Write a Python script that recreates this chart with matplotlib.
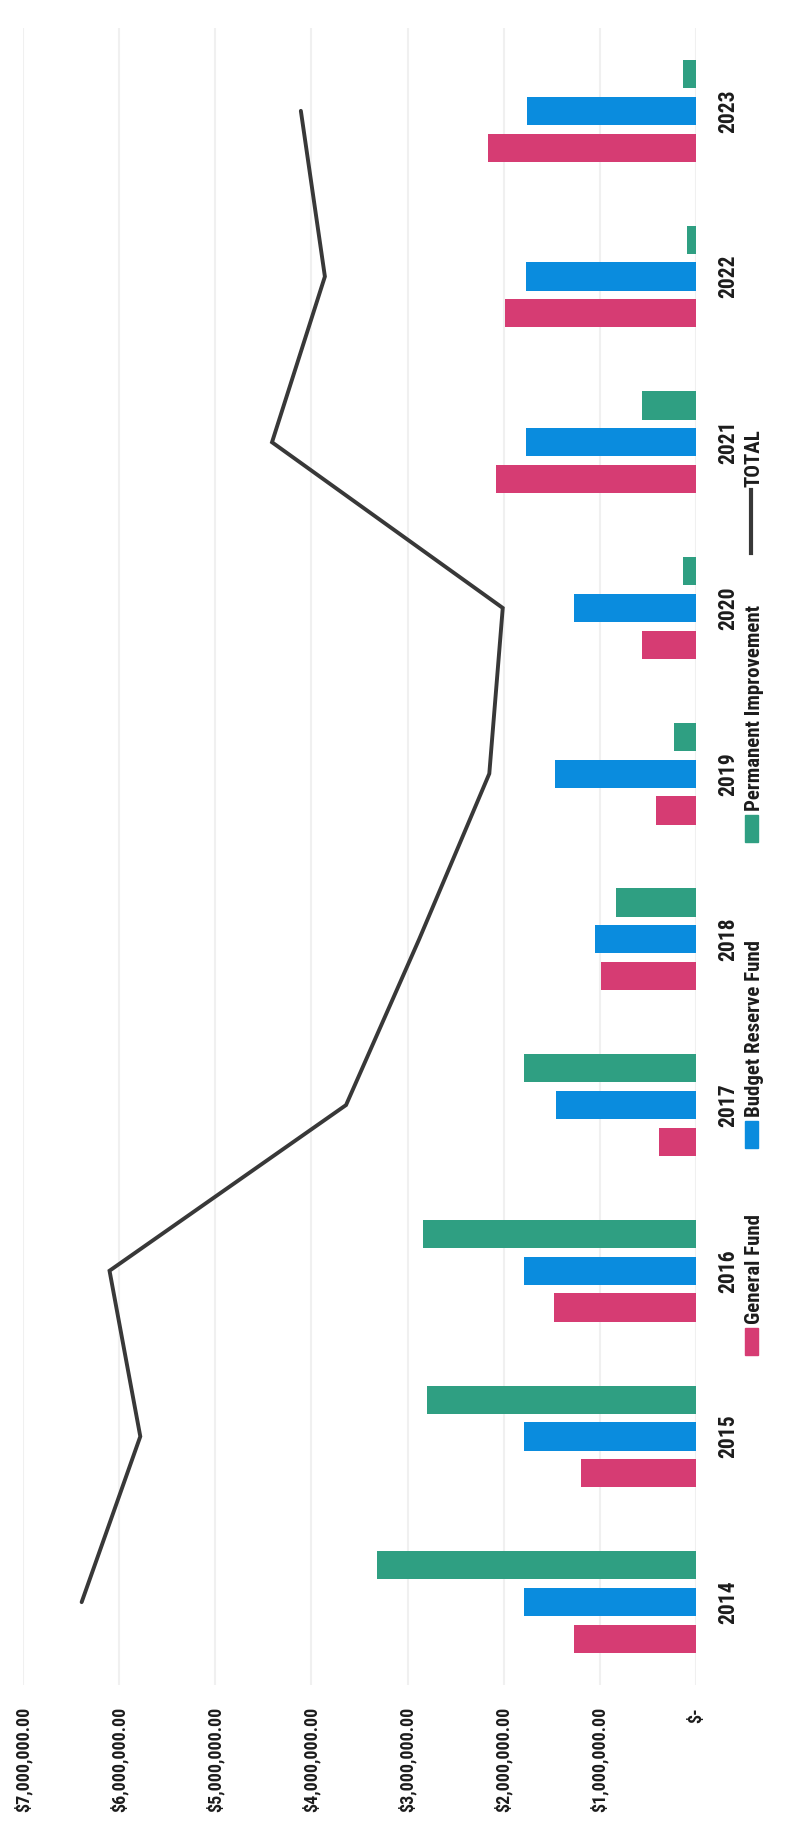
import matplotlib
matplotlib.use("Agg")
import numpy as np
import matplotlib.pyplot as plt
from matplotlib import font_manager
from matplotlib.patches import Rectangle
from matplotlib.lines import Line2D

# Datos (dólares)
years = ["2014", "2015", "2016", "2017", "2018", "2019", "2020", "2021", "2022", "2023"]
general_fund = [1270000, 1200000, 1480000, 390000, 990000, 420000, 560000, 2080000, 1990000, 2160000]
budget_reserve = [1790000, 1790000, 1790000, 1460000, 1050000, 1470000, 1270000, 1770000, 1770000, 1760000]
permanent_improvement = [3320000, 2800000, 2840000, 1790000, 830000, 230000, 140000, 560000, 90000, 140000]
total = [6390000, 5780000, 6100000, 3640000, 2880000, 2150000, 2010000, 4410000, 3860000, 4110000]

value_ticks = [0, 1000000, 2000000, 3000000, 4000000, 5000000, 6000000, 7000000]
value_tick_labels = ["$-", "$1,000,000.00", "$2,000,000.00", "$3,000,000.00",
                     "$4,000,000.00", "$5,000,000.00", "$6,000,000.00", "$7,000,000.00"]
series_names = ["General Fund", "Budget Reserve Fund", "Permanent Improvement", "TOTAL"]

PINK = '#D63C73'
BLUE = '#0A8CDE'
GREEN = '#2F9F82'
LINE = '#383838'
TEXT = '#1c1c1c'


def pick_font():
    for name in ["Roboto Condensed", "Liberation Sans Narrow", "Open Sans Condensed"]:
        try:
            font_manager.findfont(name, fallback_to_default=False)
            return name, 1.0
        except ValueError:
            pass
    return "Liberation Sans", 0.84


def fig_y(px):
    # pixel (desde arriba) -> fracción de figura
    return 1 - px / 1846.0


def main():
    font, k = pick_font()
    plt.rcParams.update({
        'font.family': [font, 'DejaVu Sans'],
        'font.weight': 'bold',
    })

    fig = plt.figure(figsize=(7.88, 18.46), dpi=100)
    fig.patch.set_facecolor('white')
    # el gráfico original está girado 90°: valores en horizontal, años en vertical
    ax = fig.add_axes([23 / 788, fig_y(1685), (696 - 23) / 788, (1685 - 28) / 1846])

    pos = np.arange(len(years))
    pitch = 0.222
    h = 0.17
    ax.barh(pos - pitch, general_fund, height=h, color=PINK, zorder=2)
    ax.barh(pos, budget_reserve, height=h, color=BLUE, zorder=2)
    ax.barh(pos + pitch, permanent_improvement, height=h, color=GREEN, zorder=2)
    ax.plot(total, pos, color=LINE, linewidth=2.8, solid_capstyle='round',
            solid_joinstyle='miter', zorder=3)

    ax.set_xlim(7000000, 0)
    ax.set_ylim(-0.5, len(years) - 0.5)

    ax.set_xticks(value_ticks)
    ax.set_xticklabels(value_tick_labels, rotation=90, va='top', ha='center',
                       fontsize=13 * k, fontweight='bold', color=TEXT)
    ax.yaxis.tick_right()
    ax.set_yticks(pos)
    ax.set_yticklabels(years, rotation=90, va='center', ha='left',
                       fontsize=15.5 * k, fontweight='bold', color=TEXT)
    ax.tick_params(axis='x', length=0, pad=16)
    ax.tick_params(axis='y', length=0, pad=15)

    for s in ax.spines.values():
        s.set_visible(False)
    ax.grid(axis='x', color='#f0f0f0', linewidth=1.5, zorder=0)
    ax.set_axisbelow(True)

    # leyenda manual (girada)
    cx = 751 / 788
    leg_fs = 15 * k
    patch_w = 13 / 788
    patch_h = 27 / 1846
    entries = [
        (series_names[0], PINK, 1355),
        (series_names[1], BLUE, 1148),
        (series_names[2], GREEN, 842),
    ]
    for name, color, y_bot in entries:
        fig.patches.append(Rectangle((cx - patch_w / 2, fig_y(y_bot)), patch_w, patch_h,
                                     transform=fig.transFigure, color=color))
        fig.text(cx + 3 / 788, fig_y(y_bot - 31), name, rotation=90, ha='center', va='bottom',
                 fontsize=leg_fs, fontweight='bold', color=TEXT)
    fig.lines.append(Line2D([cx, cx], [fig_y(553), fig_y(490)], transform=fig.transFigure,
                            color=LINE, linewidth=3.0))
    fig.text(cx + 3 / 788, fig_y(487), series_names[3], rotation=90, ha='center', va='bottom',
             fontsize=leg_fs, fontweight='bold', color=TEXT)

    fig.savefig("out.png", dpi=100)
    plt.close(fig)


if __name__ == "__main__":
    main()
